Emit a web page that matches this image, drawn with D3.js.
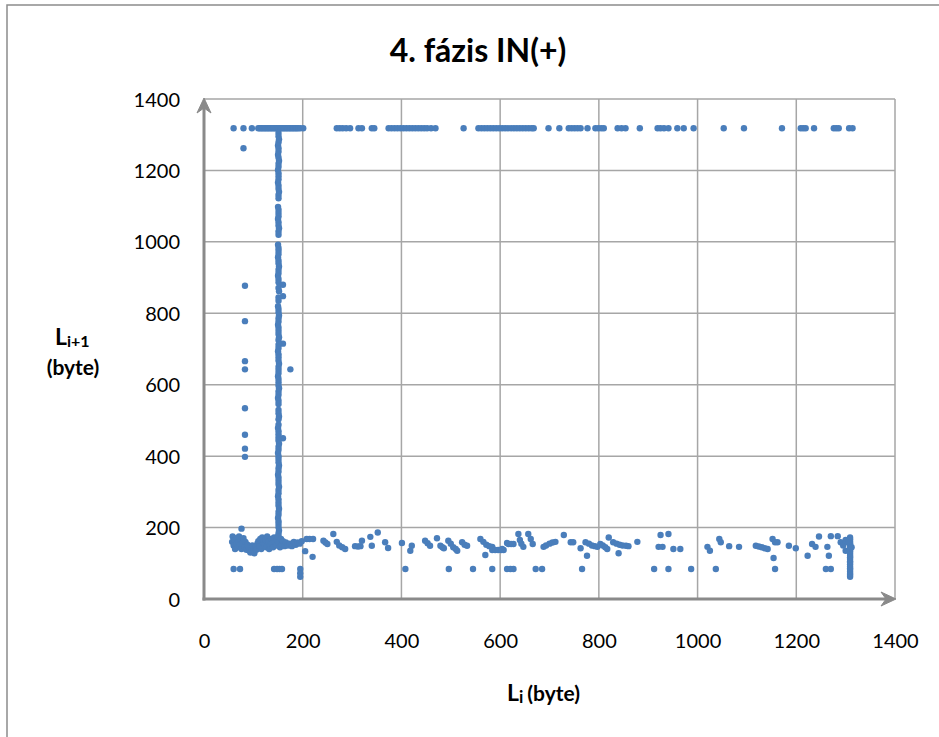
<!DOCTYPE html>
<html><head><meta charset="utf-8">
<script src="https://cdn.jsdelivr.net/npm/d3@7"></script>
<style>
html,body{margin:0;padding:0;background:#fff;}
svg{display:block;}
text{font-family:Lato,"Open Sans",sans-serif;fill:#000;}
</style></head>
<body>
<script>
// ---- DATA ----
const title = "4. fázis IN(+)";
const xTicks = [0,200,400,600,800,1000,1200,1400];
const yTicks = [0,200,400,600,800,1000,1200,1400];

// top row: Li+1 = 1318
const topRow = [[60,1318],[80,1318],[97,1318],[110,1318],[113,1318],[116,1318],[119,1318],[122,1318],[125,1318],[128,1318],[131,1318],[134,1318],[137,1318],[140,1318],[143,1318],[146,1318],[149,1318],[152,1318],[155,1318],[158,1318],[161,1318],[164,1318],[167,1318],[170,1318],[173,1318],[176,1318],[179,1318],[182,1318],[185,1318],[188,1318],[191,1318],[195,1318],[201,1318],
[269,1318],[275,1318],[281,1318],[288,1318],[296,1318],[313,1318],[320,1318],[340,1318],[345,1318],
[374,1318],[380,1318],[386,1318],[392,1318],[398,1318],[404,1318],[410,1318],[416,1318],[422,1318],[428,1318],[434,1318],[440,1318],[446,1318],[452,1318],[460,1318],[469,1318],
[526,1318],[556,1318],[562,1318],[568,1318],[574,1318],[580,1318],[586,1318],[592,1318],[598,1318],[604,1318],[610,1318],[616,1318],[622,1318],[628,1318],[634,1318],[640,1318],[646,1318],[652,1318],[658,1318],[664,1318],[668,1318],
[698,1318],[720,1318],[739,1318],[745,1318],[751,1318],[757,1318],[763,1318],[777,1318],[793,1318],[799,1318],[805,1318],[810,1318],[838,1318],[846,1318],[854,1318],[883,1318],
[919,1318],[925,1318],[932,1318],[941,1318],[959,1318],[972,1318],[992,1318],[1053,1318],[1094,1318],[1171,1318],[1209,1318],[1214,1318],[1219,1318],[1236,1318],[1276,1318],[1281,1318],[1286,1318],[1307,1318],[1314,1318]];

// vertical column near Li = 151
const column151 = [[151,1305],[151,1296],[152,1287],[151,1279],[150,1270],[151,1262],[151,1253],[150,1244],[151,1236],[152,1227],[151,1219],[151,1210],[150,1201],[151,1192],[151,1184],[151,1175],[150,1166],[151,1158],[151,1149],[152,1140],[151,1131],[151,1122],[150,1098],[151,1090],[151,1081],[151,1072],[150,1064],[151,1055],[151,1046],[152,1038],[151,1029],[151,1020],[150,992],[151,983],[151,975],[151,966],[150,957],[151,948],[151,940],[152,931],[151,922],[151,913],[150,905],[151,896],[151,887],[160,880],[151,871],[152,862],[160,848],[151,844],[151,835],[150,820],[151,812],[151,803],[152,794],[151,786],[151,777],[150,768],[151,760],[151,751],[151,742],[152,733],[151,725],[160,715],[151,712],[151,703],[150,694],[151,685],[151,677],[151,668],[152,659],[151,650],[175,643],[151,642],[151,633],[150,624],[151,616],[151,607],[151,598],[152,590],[151,581],[151,572],[150,563],[151,555],[151,546],[151,529],[151,520],[152,511],[151,503],[151,488],[150,479],[151,470],[151,461],[160,450],[151,452],[151,444],[152,435],[151,426],[151,418],[150,409],[151,400],[151,392],[151,383],[152,374],[151,366],[151,357],[150,348],[151,340],[151,331],[151,322],[152,314],[151,305],[151,296],[150,288],[151,279],[151,270],[151,262],[152,253],[151,244],[151,236],[150,227],[151,218],[151,210],[151,201],[152,192],[151,184],[151,176],[150,168]];

// column near Li = 83
const column83 = [[80,1262],[83,877],[83,778],[83,666],[83,643],[83,534],[83,460],[83,421],[83,398]];

// dense cluster at small Li, Li+1 ~ 130-200
const lowCluster = [[76,197],[57,160],[58,175],[60,150],[62,165],[63,140],[65,170],[66,155],[68,145],[70,160],[71,175],[73,150],[75,165],[76,140],[78,155],[80,170],[82,148],[84,160],[86,138],[88,152],[90,145],[92,135],[94,130],[96,142],[98,150],[100,134],[102,128],[104,145],[106,138],[108,155],[110,162],[112,148],[114,168],[116,140],[118,172],[120,158],[122,150],[124,165],[126,145],[128,175],[130,160],[132,140],[134,150],[136,168],[138,155],[140,145],[142,172],[144,160],[146,150],[148,165],[150,175],[152,158],[154,145],[156,168],[158,152],[160,162],[163,148],[166,158],[170,150],[174,155],[178,148],[182,160],[186,152],[190,158],[194,155],[198,162],
[60,84],[73,84],[142,84],[148,84],[153,84],[158,84],[195,84],[195,62],[195,72]];

// scattered band Li > 200, Li+1 ~ 115-185
const band = [[205,134],[208,168],[214,168],[221,168],[220,118],[242,163],[246,158],[250,154],[262,182],[269,160],[274,150],[280,145],[286,140],[306,148],[312,147],[317,148],[320,163],[337,174],[340,149],[352,186],[367,159],[373,143],
[401,157],[408,84],[418,135],[421,149],[448,163],[453,156],[458,149],[472,170],[479,149],[483,145],[486,142],[496,84],[495,163],[500,155],[505,145],[510,140],[513,135],[523,159],[528,152],[533,149],[545,84],
[560,168],[566,160],[572,152],[578,148],[584,146],[570,123],[584,84],[584,137],[590,137],[596,137],[602,137],[607,137],[614,84],[614,157],
[604,140],[621,84],[627,84],[617,154],[622,154],[627,154],[637,182],[640,165],[643,155],[647,146],[657,182],[662,168],[666,154],[672,84],[685,84],[688,146],[693,150],[700,155],[706,158],[712,160],[729,179],[743,159],[748,159],[763,142],[766,84],[776,121],[773,159],[780,155],[786,150],[792,148],[797,146],
[803,154],[808,150],[813,145],[817,140],[820,172],[829,159],[836,155],[842,152],[848,150],[855,149],[860,148],[840,128],[878,160],[912,84],[921,146],[929,146],[925,179],[941,182],[941,84],[951,140],[965,140],[987,84],
[1020,146],[1025,135],[1037,84],[1044,168],[1047,159],[1064,148],[1084,146],[1118,149],[1124,147],[1130,145],[1136,142],[1142,140],[1152,168],[1157,159],[1162,159],[1154,115],[1157,84],[1185,149],[1199,142],[1223,121],[1232,154],[1239,146],[1246,175],[1263,146],[1266,121],[1260,84],[1270,84],[1270,176],[1284,176],[1290,159],[1295,150],[1300,135],[1300,165]];

// column near Li = 1310
const column1310 = [[1309,62],[1309,67],[1309,71],[1309,76],[1309,82],[1309,86],[1309,91],[1309,97],[1309,102],[1309,106],[1309,112],[1309,117],[1309,121],[1309,127],[1309,132],[1309,136],[1309,141],[1309,147],[1309,152],[1309,156],[1309,161],[1309,167],[1309,172],[1305,158],[1312,145]];

// ---- DRAW ----
const W = 939, H = 737;
const svg = d3.select("body").append("svg").attr("width", W).attr("height", H);

// outer chart border
svg.append("rect").attr("x", 7).attr("y", 5).attr("width", 960).attr("height", 760)
  .attr("fill", "#fff").attr("stroke", "#8c8c8c").attr("stroke-width", 1.5);

const x = d3.scaleLinear().domain([0, 1400]).range([204, 895]);
const y = d3.scaleLinear().domain([0, 1400]).range([599, 99]);

// grid
const grid = svg.append("g");
grid.selectAll("line.v").data(xTicks.filter(d => d > 0)).join("line")
  .attr("x1", d => x(d)).attr("x2", d => x(d)).attr("y1", y(0)).attr("y2", y(1400))
  .attr("stroke", "#a6a6a6").attr("stroke-width", 1.5);
grid.selectAll("line.h").data(yTicks.filter(d => d > 0)).join("line")
  .attr("x1", x(0)).attr("x2", x(1400)).attr("y1", d => y(d)).attr("y2", d => y(d))
  .attr("stroke", "#a6a6a6").attr("stroke-width", 1.5);

// axes with tick labels (no tick marks)
const xAxis = d3.axisBottom(x).tickValues(xTicks).tickSize(0).tickPadding(0).tickFormat(d3.format("d"));
const gx = svg.append("g").attr("transform", `translate(0,${y(0)})`).call(xAxis);
gx.select(".domain").remove();
gx.selectAll("text").attr("font-size", 20).attr("dy", 0).attr("y", 49).attr("font-family", "Lato").attr("fill", "#000");

const yAxis = d3.axisLeft(y).tickValues(yTicks).tickSize(0).tickPadding(0).tickFormat(d3.format("d"));
const gy = svg.append("g").attr("transform", `translate(${x(0)},0)`).call(yAxis);
gy.select(".domain").remove();
gy.selectAll("text").attr("font-size", 20).attr("x", -24).attr("dy", "0.35em").attr("font-family", "Lato").attr("fill", "#000");

// axis lines with arrows
const axisCol = "#8a8a8a";
svg.append("line").attr("x1", x(0)).attr("x2", x(0)).attr("y1", y(0) + 1.5).attr("y2", y(1400) + 4)
  .attr("stroke", axisCol).attr("stroke-width", 3);
svg.append("line").attr("x1", x(0) - 1.5).attr("x2", x(1400) - 4).attr("y1", y(0)).attr("y2", y(0))
  .attr("stroke", axisCol).attr("stroke-width", 3);
svg.append("path")
  .attr("d", `M${x(0)},${y(1400) - 1} L${x(0) - 7},${y(1400) + 14} L${x(0)},${y(1400) + 9} L${x(0) + 7},${y(1400) + 14} Z`)
  .attr("fill", axisCol).attr("stroke", axisCol).attr("stroke-width", 1).attr("stroke-linejoin", "round");
svg.append("path")
  .attr("d", `M${x(1400) + 1},${y(0)} L${x(1400) - 14},${y(0) - 7} L${x(1400) - 9},${y(0)} L${x(1400) - 14},${y(0) + 7} Z`)
  .attr("fill", axisCol).attr("stroke", axisCol).attr("stroke-width", 1).attr("stroke-linejoin", "round");

// points
const allPts = [].concat(topRow, column151, column83, lowCluster, band, column1310);
svg.append("g").selectAll("circle").data(allPts).join("circle")
  .attr("cx", d => x(d[0])).attr("cy", d => y(d[1])).attr("r", 3.2)
  .attr("fill", "#4a7ebb");

// title
svg.append("text").attr("x", 478).attr("y", 62).attr("text-anchor", "middle")
  .attr("font-size", 32).attr("font-weight", "bold").text(title);

// y-axis title
const yt = svg.append("text").attr("x", 55).attr("y", 345).attr("font-size", 23).attr("font-weight", "bold");
yt.append("tspan").text("L");
yt.append("tspan").attr("font-size", 16).attr("dy", 2).text("i+1");
svg.append("text").attr("x", 73).attr("y", 375).attr("text-anchor", "middle")
  .attr("font-size", 21).attr("font-weight", "bold").text("(byte)");

// x-axis title
const xt = svg.append("text").attr("x", 507).attr("y", 701).attr("font-size", 23).attr("font-weight", "bold");
xt.append("tspan").text("L");
xt.append("tspan").attr("font-size", 17).attr("dy", 2).text("i");
xt.append("tspan").attr("font-size", 21).attr("dx", 4).attr("dy", -2).text("(byte)");
</script>
</body></html>
